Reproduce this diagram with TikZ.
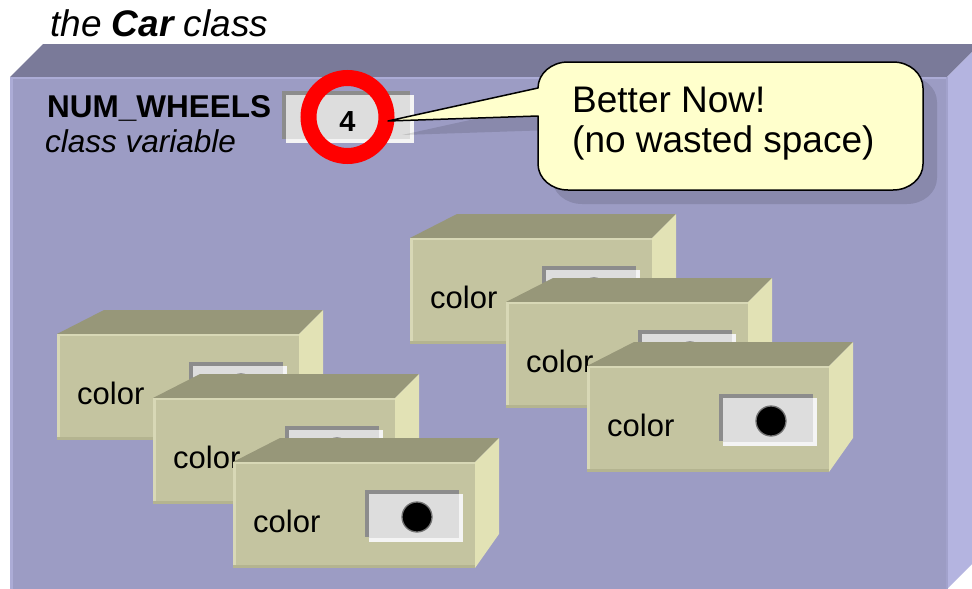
\documentclass[tikz,border=0pt]{standalone}
\usepackage{fontspec}
\setmainfont{Liberation Sans}
\definecolor{clsfront}{HTML}{9C9CC4}
\definecolor{clstop}{HTML}{7A7A99}
\definecolor{clsside}{HTML}{B4B4E0}
\definecolor{clsedge}{HTML}{ACACD6}
\definecolor{clsdark}{HTML}{A2A2CC}
\definecolor{carfrontc}{HTML}{C4C4A0}
\definecolor{cartopc}{HTML}{979779}
\definecolor{carsidec}{HTML}{E2E2B5}
\definecolor{carlight}{HTML}{D8D8B6}
\definecolor{carshadec}{HTML}{B4B490}
\definecolor{slotdarkc}{HTML}{8C8C8C}
\definecolor{slotlightc}{HTML}{F4F4F4}
\definecolor{slotfacec}{HTML}{DDDDDD}
\definecolor{calloutc}{HTML}{FFFFCC}
\newcommand\carbox[3]{%
  \begin{scope}[shift={(#2,#3)}]
    \fill[cartopc] (0,0) -- (47,-24) -- (266,-24) -- (242,0) -- cycle;
    \fill[carsidec] (242,0) -- (266,-24) -- (266,72) -- (242,106) -- cycle;
    \fill[carfrontc] (0,0) rectangle (242,106);
    \fill[carlight] (0,0) rectangle (3,106);
    \fill[carlight] (0,0) rectangle (242,1.5);
    \fill[carshadec] (0,103) rectangle (242,106);
    \fill[slotdarkc] (132,28) rectangle (226,75);
    \fill[slotlightc] (136,32) rectangle (230,80);
    \fill[slotfacec] (136,32) rectangle (226,76);
    \node[valdot] (#1dot) at (184,55) {};
    \node[fieldlbl] (#1lbl) at (20,70) {color};
  \end{scope}}
\begin{document}
\begin{tikzpicture}[x=1pt,y=-1pt,
  valdot/.style={circle,fill=black,draw=black!55,line width=1.3pt,minimum size=30pt,inner sep=0pt},
  fieldlbl/.style={anchor=base west,inner sep=0pt,font=\fontsize{31}{36}\selectfont},
  bigtxt/.style={anchor=base west,inner sep=0pt,font=\fontsize{37}{44}\selectfont},
  vartxt/.style={anchor=base west,inner sep=0pt,font=\fontsize{31.5}{36}\selectfont},
  ringstyle/.style={circle,draw=red,line width=16pt,minimum size=78pt,inner sep=0pt},
  bubble/.style={fill=calloutc,draw=black,line width=1.5pt,line join=round}]
\useasboundingbox (0,0) rectangle (972,589);
\clip (0,0) rectangle (972,589);
\fill[white] (0,0) rectangle (972,589);
% class box
\fill[clstop] (10,77) -- (43,44) -- (980,44) -- (947,77) -- cycle;
\fill[clsside] (947,77) -- (980,44) -- (980,556) -- (947,589) -- cycle;
\fill[clsfront] (10,77) rectangle (947,600);
\fill[clsedge] (10,77) rectangle (13,600);
\fill[clsedge] (10,77) rectangle (947,78.5);
\fill[clsdark] (946,77) rectangle (948,600);
% title
\node[bigtxt] (title) at (50,36) {\itshape the \textbf{Car} class};
% class variable
\node[vartxt] (numw) at (47,117) {\bfseries NUM\_WHEELS};
\node[vartxt] (clsvar) at (45,152) {\itshape class variable};
\fill[slotdarkc] (282,91) rectangle (410,139);
\fill[slotlightc] (286,95) rectangle (414,143);
\fill[slotfacec] (286,95) rectangle (410,139);
\node[ringstyle] (ring) at (347.5,117) {};
\node[anchor=base,inner sep=0pt] (four) at (347.5,131) {\fontsize{29}{34}\selectfont\bfseries 4};
\coordinate (tip) at (388,121);
% cars
\carbox{a}{57}{334}
\carbox{b}{153}{398}
\carbox{c}{233}{462}
\carbox{d}{410}{238}
\carbox{e}{506}{302}
\carbox{f}{587}{366}
% callout shadow
\begin{scope}
\clip (10,77) rectangle (947,589);
\fill[black,opacity=0.12,shift={(14,14)}] (388,121) -- (538,116) -- (538,164)
  arc[start angle=180,end angle=90,x radius=30,y radius=26] -- (893,190)
  arc[start angle=90,end angle=0,x radius=30,y radius=26] -- (923,88)
  arc[start angle=0,end angle=-90,x radius=30,y radius=26] -- (568,62)
  arc[start angle=-90,end angle=-180,x radius=30,y radius=26] -- (538,88) -- cycle;
\end{scope}
% callout
\draw[bubble] (tip) -- (538,116) -- (538,164)
  arc[start angle=180,end angle=90,x radius=30,y radius=26] -- (893,190)
  arc[start angle=90,end angle=0,x radius=30,y radius=26] -- (923,88)
  arc[start angle=0,end angle=-90,x radius=30,y radius=26] -- (568,62)
  arc[start angle=-90,end angle=-180,x radius=30,y radius=26] -- (538,88) -- cycle;
\node[bigtxt] (callA) at (572,112) {Better Now!};
\node[bigtxt] (callB) at (572,152) {(no wasted space)};
\end{tikzpicture}
\end{document}
